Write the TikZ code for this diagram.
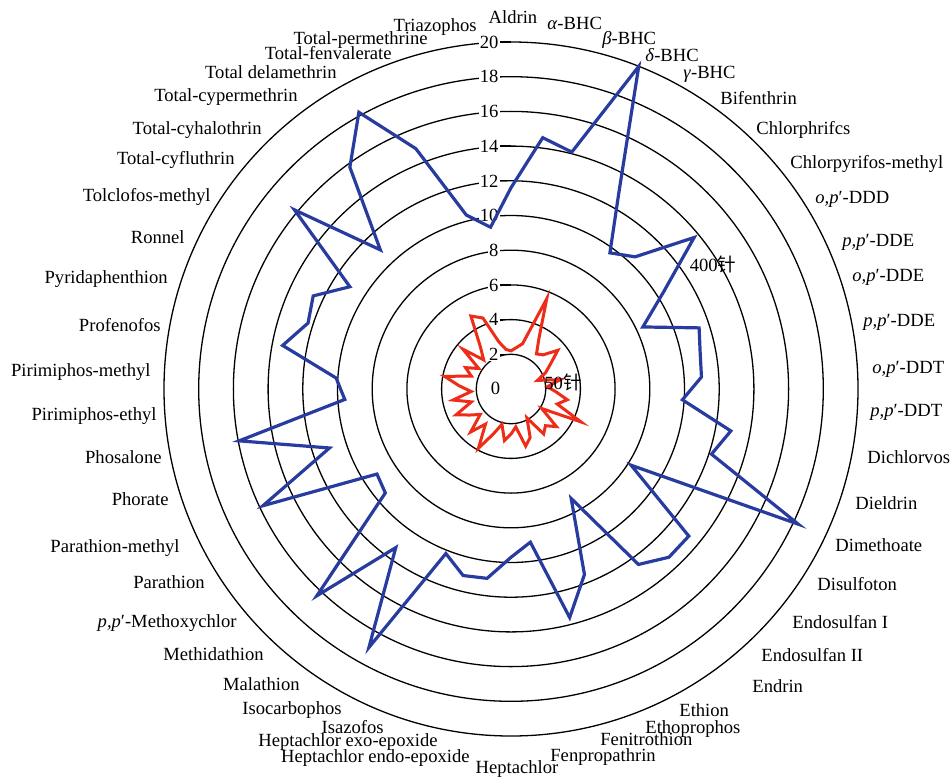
\documentclass[tikz,border=0pt]{standalone}
\usepackage{fontspec}
\setmainfont{Liberation Serif}
\newfontfamily\cjk{Noto Sans CJK SC}
\newcommand{\radunit}{17.35}
\begin{document}
\begin{tikzpicture}[x=0.5pt,y=0.5pt,font=\fontsize{9.3}{11}\selectfont,
    ring/.style={black,line width=0.65pt},
    cat/.style={inner sep=0pt,text height=6.3pt,text depth=0pt},
    tick/.style={cat,fill=white,inner xsep=0.6pt},
    series400/.style={color={rgb,255:red,40;green,60;blue,160},line width=1.6pt},
    series50/.style={color={rgb,255:red,238;green,45;blue,25},line width=1.5pt}]
  \useasboundingbox (-511,-388) rectangle (440,389);
  \node(c) at (0,0){};

  % rings and value axis
  \foreach \v in {2,4,...,20}{
    \draw[ring] (c.center) circle[radius=\v*\radunit];
    \draw[ring] (-11,\v*\radunit) -- (0,\v*\radunit);
    \node[tick,anchor=east](t\v) at (-11,\v*\radunit){\v};
  }
  \node[cat](zero) at (-15.5,1){0};

  % 400 needles
  \draw[series400] (90:{11.6*\radunit})
    \foreach \v [count=\i] in {14.6,14.1,20.0,12.9,9.7,10.45,13.7,10.4,8.4,11.4,
      11.1,11.0,9.9,12.9,12.15,18.3,8.2,13.3,13.3,12.5,7.2,11.5,13.6,8.9,9.7,
      11.0,11.1,10.2,17.0,11.3,16.35,9.4,9.15,15.8,11.0,15.95,9.6,10.1,13.4,
      12.3,12.6,11.0,16.2,11.0,15.8,18.2,14.9,10.35,9.4}
    { -- ({90-\i*7.2}:{\v*\radunit}) } -- cycle;

  % 50 needles
  \draw[series50] (90:{2.2*\radunit})
    \foreach \v [count=\i] in {2.4,2.7,5.6,3.35,2.5,2.7,3.5,2.7,2.2,1.6,
      2.9,2.1,2.6,3.3,2.8,4.45,2.1,3.4,2.9,3.2,1.9,3.0,3.4,2.2,2.6,
      3.0,2.1,2.8,3.9,2.5,3.4,2.3,2.8,3.5,2.4,3.4,2.3,3.0,3.9,
      2.4,2.9,2.2,3.6,2.3,3.0,4.8,4.4,2.8,2.3}
    { -- ({90-\i*7.2}:{\v*\radunit}) } -- cycle;

  \node[cat](lab400) at (202,124){400{\cjk 针}};
  \node[cat](lab50) at (52,6){50{\cjk 针}};

  % categories, right half
  \node[cat](aldrin) at (2,372){Aldrin};
  \node[cat,anchor=west](abhc) at (36,366){\textit{α}-BHC};
  \node[cat,anchor=west](bbhc) at (91,351){\textit{β}-BHC};
  \node[cat,anchor=west](dbhc) at (134,334){\textit{δ}-BHC};
  \node[cat,anchor=west](gbhc) at (172,317){\textit{γ}-BHC};
  \node[cat,anchor=west](bifen) at (209,291){Bifenthrin};
  \node[cat,anchor=west](chlor) at (245,261){Chlorphrifcs};
  \node[cat,anchor=west](chlorm) at (279,227){Chlorpyrifos-methyl};
  \node[cat,anchor=west](opddd) at (304,192){\textit{o,p}′-DDD};
  \node[cat,anchor=west](ppdde) at (331,149){\textit{p,p}′-DDE};
  \node[cat,anchor=west](opdde) at (341,114){\textit{o,p}′-DDE};
  \node[cat,anchor=west](ppddeb) at (352,69){\textit{p,p}′-DDE};
  \node[cat,anchor=west](opddt) at (361,22){\textit{o,p}′-DDT};
  \node[cat,anchor=west](ppddt) at (359,-21){\textit{p,p}′-DDT};
  \node[cat,anchor=west](dichl) at (356,-68){Dichlorvos};
  \node[cat,anchor=west](dield) at (344,-114){Dieldrin};
  \node[cat,anchor=west](dimeth) at (324,-156){Dimethoate};
  \node[cat,anchor=west](disulf) at (306,-195){Disulfoton};
  \node[cat,anchor=west](endoa) at (281,-233){Endosulfan I};
  \node[cat,anchor=west](endob) at (250,-266){Endosulfan II};
  \node[cat,anchor=west](endrin) at (241,-297){Endrin};
  \node[cat,anchor=west](ethion) at (168,-321){Ethion};
  \node[cat,anchor=west](ethop) at (134,-338){Ethoprophos};
  \node[cat,anchor=west](fenit) at (89,-350){Fenitrothion};
  \node[cat,anchor=west](fenp) at (39,-366){Fenpropathrin};
  \node[cat](hepta) at (6,-378){Heptachlor};

  % categories, left half
  \node[cat,anchor=east](hendo) at (-41,-367){Heptachlor endo-epoxide};
  \node[cat,anchor=east](hexo) at (-73,-351){Heptachlor exo-epoxide};
  \node[cat,anchor=east](isaz) at (-127,-338){Isazofos};
  \node[cat,anchor=east](isoc) at (-169,-319){Isocarbophos};
  \node[cat,anchor=east](malat) at (-211,-295){Malathion};
  \node[cat,anchor=east](methid) at (-247,-265){Methidathion};
  \node[cat,anchor=east](methox) at (-274,-232){\textit{p,p}′-Methoxychlor};
  \node[cat,anchor=east](parat) at (-306,-193){Parathion};
  \node[cat,anchor=east](paratm) at (-331,-157){Parathion-methyl};
  \node[cat,anchor=east](phor) at (-342,-110){Phorate};
  \node[cat,anchor=east](phos) at (-349,-68){Phosalone};
  \node[cat,anchor=east](pirie) at (-354,-25){Pirimiphos-ethyl};
  \node[cat,anchor=east](pirim) at (-360,19){Pirimiphos-methyl};
  \node[cat,anchor=east](prof) at (-350,64){Profenofos};
  \node[cat,anchor=east](pyrid) at (-343,112){Pyridaphenthion};
  \node[cat,anchor=east](ronnel) at (-326,152){Ronnel};
  \node[cat,anchor=east](tolcl) at (-300,194){Tolclofos-methyl};
  \node[cat,anchor=east](tcyfl) at (-276,231){Total-cyfluthrin};
  \node[cat,anchor=east](tcyha) at (-249,261){Total-cyhalothrin};
  \node[cat,anchor=east](tcype) at (-213,294){Total-cypermethrin};
  \node[cat,anchor=east](tdela) at (-174,317){Total delamethrin};
  \node[cat,anchor=east](tfenv) at (-119,336){Total-fenvalerate};
  \node[cat,anchor=east](tperm) at (-83,351){Total-permethrine};
  \node[cat,anchor=east](triaz) at (-34,364){Triazophos};
\end{tikzpicture}
\end{document}
